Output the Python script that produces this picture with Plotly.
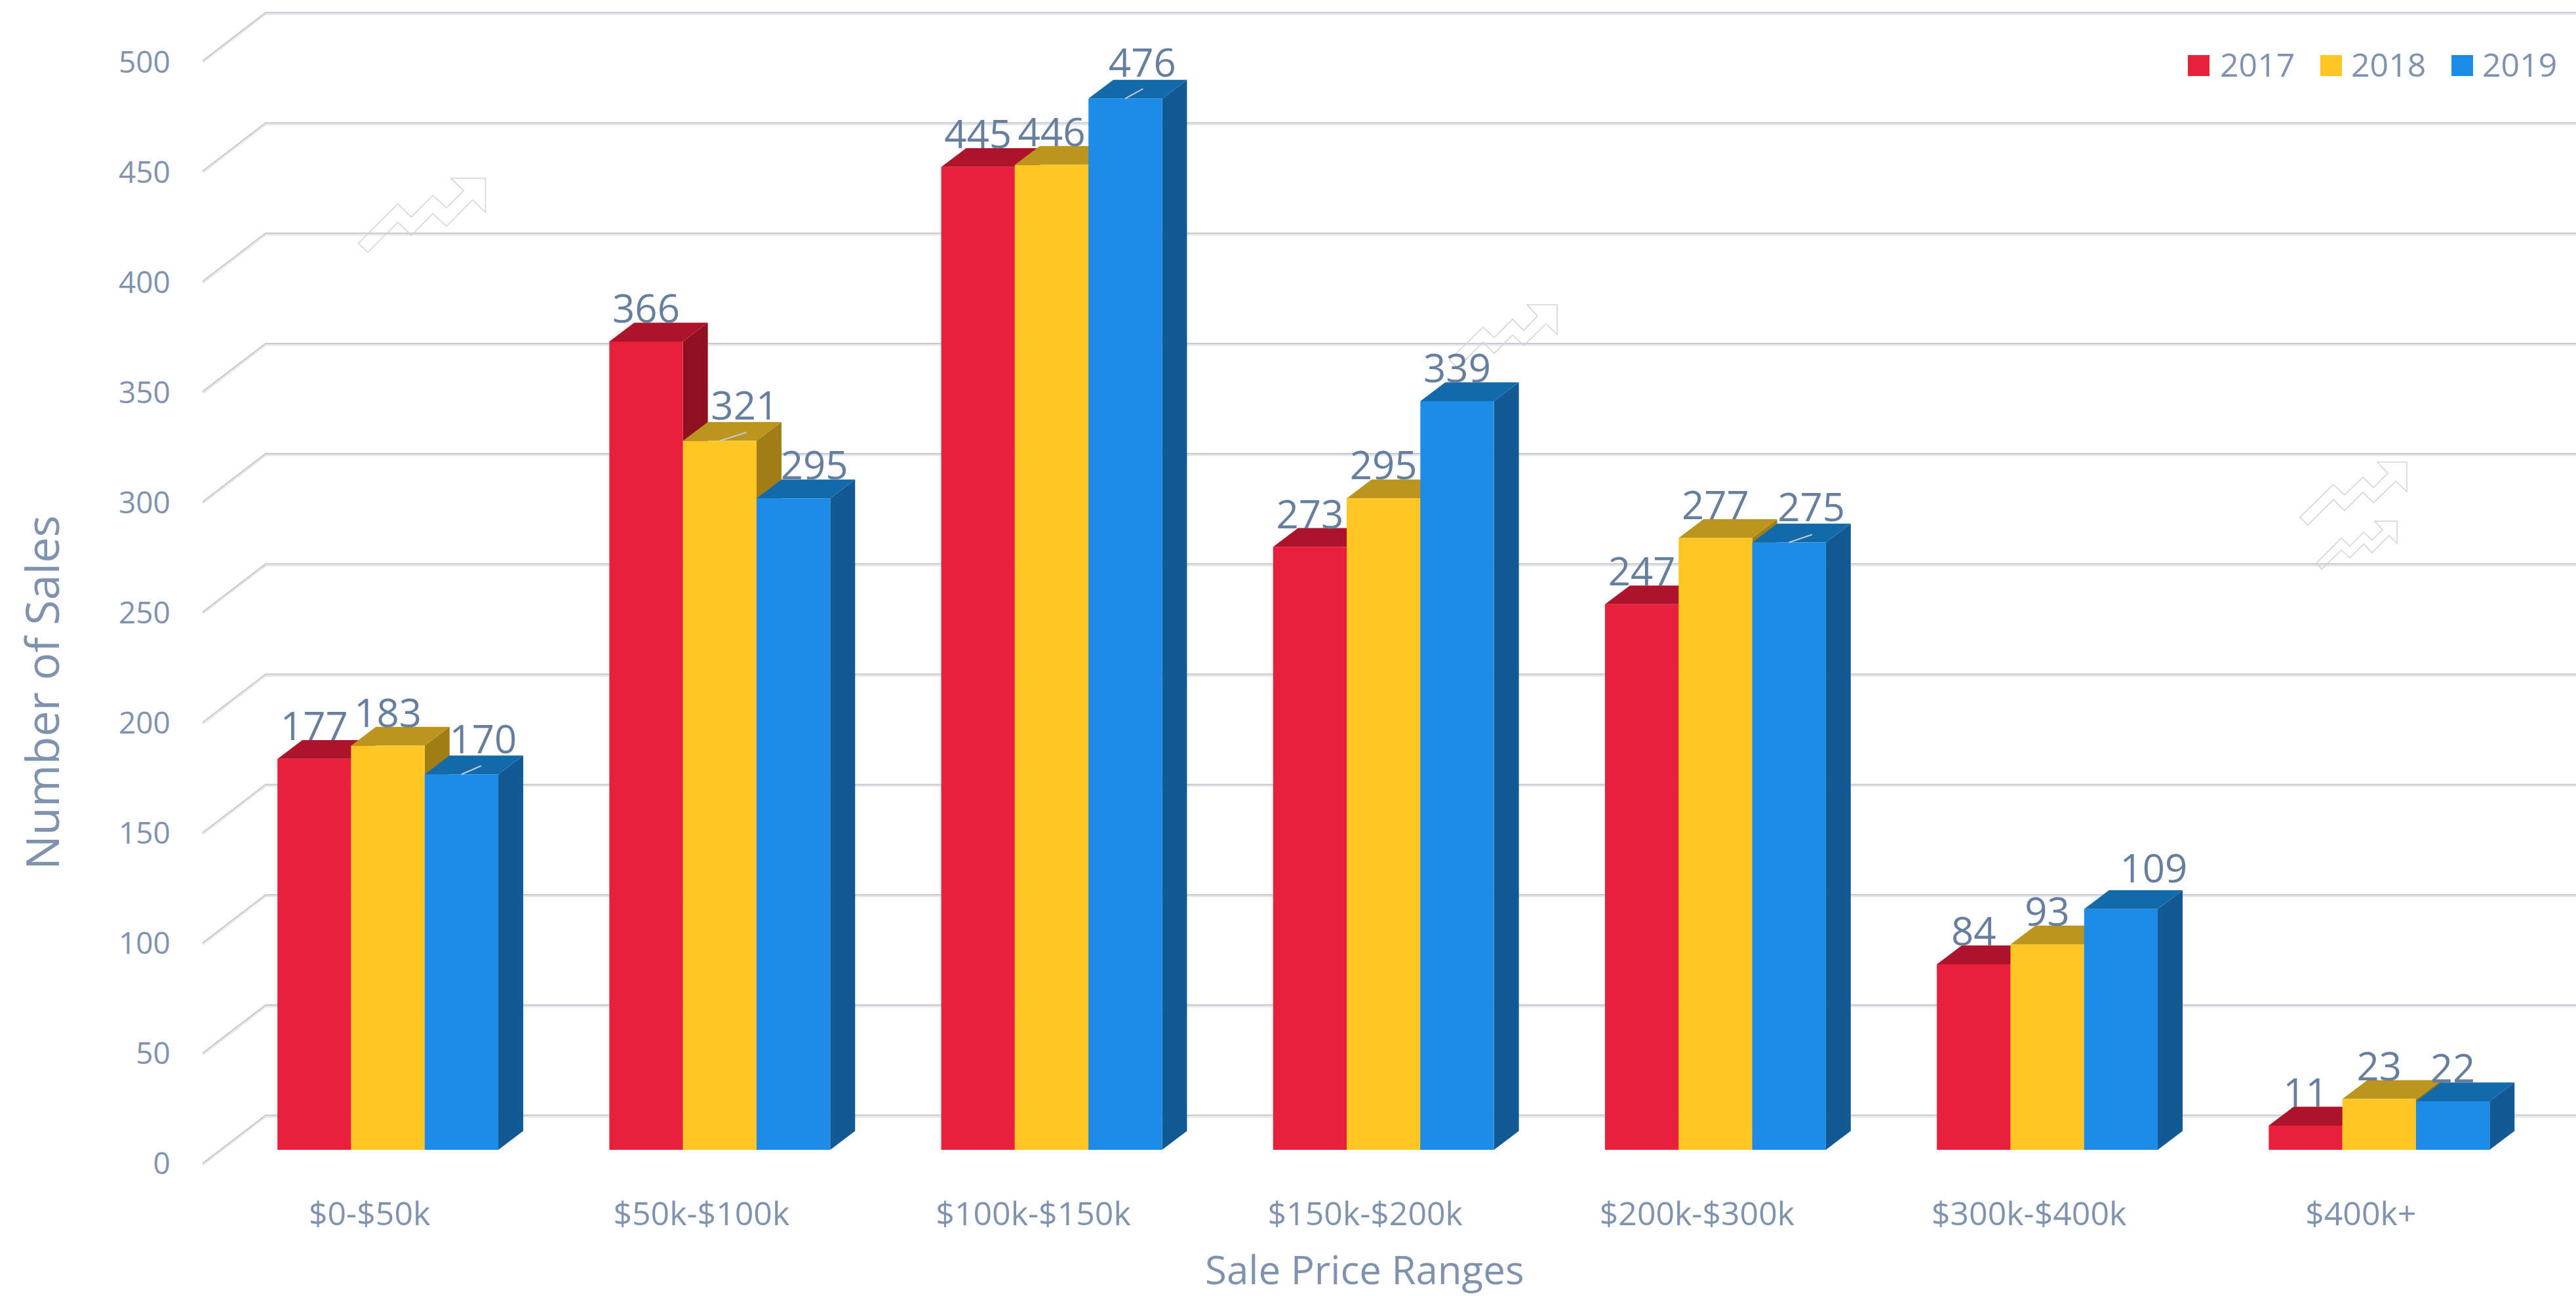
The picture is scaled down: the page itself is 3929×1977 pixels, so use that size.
import plotly.graph_objects as go

# ---- data -------------------------------------------------------------
CATEGORIES = ["$0-$50k", "$50k-$100k", "$100k-$150k", "$150k-$200k", "$200k-$300k", "$300k-$400k", "$400k+"]
YEARS = ["2017", "2018", "2019"]
SALES_2017 = [177, 366, 445, 273, 247, 84, 11]
SALES_2018 = [183, 321, 446, 295, 277, 93, 23]
SALES_2019 = [170, 295, 476, 339, 275, 109, 22]
Y_TICKS = [0, 50, 100, 150, 200, 250, 300, 350, 400, 450, 500]
SERIES = [SALES_2017, SALES_2018, SALES_2019]

# ---- canvas / projection constants (pixels of the page) ----------------
W, H = 3929, 1977
PLOT_L, PLOT_B = 300, 1800
GROUP0_X, GROUP_STEP = 591.6, 506.2   # centre of first group, distance between groups
BAR_W_PX = 112.3
BASE_Y, PX_PER_VALUE = 1754.0, 3.369
DEPTH_X, DEPTH_Y = 38.0, 28.7         # 3-D depth of a bar
WALL_X0, WALL_X1 = 309.0, 405.0       # floor diagonal of the gridlines
WALL_ZERO_Y, WALL_STEP = 1702.0, 3.364
WALL_DY = 73.5
TICK_ZERO_Y, TICK_STEP = 1775.0, 3.36
CAT_LABEL_SHIFT_PX = -28.0


def ux(px):
    return (px - GROUP0_X) / GROUP_STEP


def uy(py):
    return (BASE_Y - py) / PX_PER_VALUE


def pap_x(px):
    return (px - PLOT_L) / (W - PLOT_L)


def pap_y(py):
    return (PLOT_B - py) / PLOT_B


BAR_W = BAR_W_PX / GROUP_STEP
DX = DEPTH_X / GROUP_STEP
DY = DEPTH_Y / PX_PER_VALUE

FRONT = ["#E8203C", "#FFC624", "#1C8CE6"]
TOP = ["#AD142B", "#BB951D", "#136AAA"]
SIDE = ["#91101F", "#A07D15", "#125A93"]
TICK_COLOR = "#7F93AE"
LABEL_COLOR = "#667F9F"
FONT = "Open Sans"

# labels the original moved aside: (series, category) -> (dx px, dy px)
LABEL_MOVED = {(1, 1): (38, 4), (2, 1): (32, 0), (2, 0): (33, 4), (2, 2): (26, 5),
               (2, 4): (34, 4), (2, 5): (50, 12)}
# thin connector lines of moved labels: (series, category) -> (dx px, dy px)
LEADERS = {(1, 1): (41, 13), (2, 2): (27, 15), (2, 0): (30, 13), (2, 4): (35, 12)}

fig = go.Figure()
shapes = []

# gridlines: floor diagonal + back wall line, double stroked
for v in Y_TICKS:
    by = WALL_ZERO_Y - WALL_STEP * v
    for off, col, lw in ((1.2, "#E4E7EB", 3.5), (-0.8, "#C4C8CE", 1.8)):
        path = (f"M {ux(WALL_X0)} {uy(by + WALL_DY + off)} "
                f"L {ux(WALL_X1)} {uy(by + off)} L {ux(W + 5)} {uy(by + off)}")
        shapes.append(dict(type="path", path=path, xref="x", yref="y", layer="below",
                           line=dict(color=col, width=lw)))

# 3-D faces of the bars
for j, vals in enumerate(SERIES):
    for i, v in enumerate(vals):
        x0 = i + (j - 1.5) * BAR_W
        x1 = x0 + BAR_W
        side = f"M {x1} 0 L {x1 + DX} {DY} L {x1 + DX} {v + DY} L {x1} {v} Z"
        top = f"M {x0} {v} L {x0 + DX} {v + DY} L {x1 + DX} {v + DY} L {x1} {v} Z"
        shapes.append(dict(type="path", path=side, xref="x", yref="y", layer="between",
                           fillcolor=SIDE[j], line=dict(width=0)))
        shapes.append(dict(type="path", path=top, xref="x", yref="y", layer="between",
                           fillcolor=TOP[j], line=dict(width=0)))

# front faces
for j, vals in enumerate(SERIES):
    fig.add_trace(go.Bar(name=YEARS[j], x=list(range(len(CATEGORIES))), y=vals,
                         marker=dict(color=FRONT[j], line=dict(width=0))))

# data labels
LABEL_LIFT_PX = -15
for j, vals in enumerate(SERIES):
    xs, ys = [], []
    for i, v in enumerate(vals):
        dx, dy = LABEL_MOVED.get((j, i), (0, 0))
        xs.append(i + (j - 1) * BAR_W + dx / GROUP_STEP)
        ys.append(v + DY + (dy + LABEL_LIFT_PX) / PX_PER_VALUE)
    fig.add_trace(go.Scatter(x=xs, y=ys, mode="text", text=[str(v) for v in vals],
                             textposition="top center", showlegend=False, cliponaxis=False,
                             hoverinfo="skip",
                             textfont=dict(family=FONT, size=60, color=LABEL_COLOR)))

# connector lines
for (j, i), (dx, dy) in LEADERS.items():
    xc = i + (j - 1) * BAR_W
    v = SERIES[j][i]
    shapes.append(dict(type="line", xref="x", yref="y", layer="above",
                       x0=xc, y0=v, x1=xc + dx / GROUP_STEP, y1=v + dy / PX_PER_VALUE,
                       line=dict(color="#C3CBD6", width=2)))

# faint decorative arrows, outlines in page pixels
ARROWS = [
    [(546.5, 371), (607, 311), (627.5, 331), (660, 298), (681, 317), (707, 291), (688, 272), (740.5, 272),
     (740.5, 324), (720.5, 305), (681, 345), (660, 326), (627.5, 359), (607, 339), (561, 385)],
    [(2211, 549), (2262, 499), (2279, 515), (2307, 487), (2324, 504), (2345, 482), (2329, 465), (2375, 465),
     (2375, 510), (2358, 494), (2324, 527), (2307, 511), (2279, 539), (2262, 522), (2223, 561)],
    [(3508, 789), (3559, 739), (3576, 755), (3604, 728), (3620, 744), (3642, 722), (3626, 705), (3671, 705),
     (3671, 750), (3654, 734), (3620, 767), (3604, 751), (3576, 779), (3559, 762), (3520, 801)],
    [(3533, 859), (3571, 821), (3584, 833), (3605, 812), (3618, 824), (3634, 808), (3622, 795), (3656, 795),
     (3656, 829), (3644, 817), (3618, 843), (3605, 830), (3584, 851), (3571, 839), (3541, 868)],
]
for pts in ARROWS:
    path = "M " + " L ".join(f"{ux(a)} {uy(b)}" for a, b in pts) + " Z"
    shapes.append(dict(type="path", path=path, xref="x", yref="y", layer="below",
                       line=dict(color="#D4D4D4", width=1.6)))

# legend swatches
for k, x0 in enumerate((3337, 3539, 3739)):
    shapes.append(dict(type="rect", xref="x", yref="y", layer="between",
                       x0=ux(x0), x1=ux(x0 + 33), y0=uy(116), y1=uy(84),
                       fillcolor=FRONT[k], line=dict(width=0)))

annotations = [
    dict(text="Number of Sales", xref="paper", yref="paper", x=pap_x(63), y=pap_y(1057),
         textangle=-90, showarrow=False, xanchor="center", yanchor="middle",
         font=dict(family=FONT, size=70, color=TICK_COLOR)),
    dict(text="Sale Price Ranges", xref="paper", yref="paper", x=pap_x(2081), y=pap_y(1936),
         showarrow=False, xanchor="center", yanchor="middle",
         font=dict(family=FONT, size=60, color=TICK_COLOR)),
]

fig.update_layout(
    width=W, height=H, autosize=False,
    margin=dict(l=PLOT_L, r=0, t=0, b=H - PLOT_B, pad=0),
    paper_bgcolor="white", plot_bgcolor="rgba(0,0,0,0)",
    barmode="group", bargap=1 - 3 * BAR_W, bargroupgap=0,
    shapes=shapes, annotations=annotations,
    showlegend=True,
    legend=dict(orientation="h", x=pap_x(3321), xanchor="left", y=pap_y(97), yanchor="middle",
                itemwidth=55, entrywidth=130, entrywidthmode="pixels",
                font=dict(family=FONT, size=50, color=TICK_COLOR), bgcolor="rgba(0,0,0,0)",
                traceorder="normal", itemclick=False, itemdoubleclick=False),
    xaxis=dict(range=[ux(PLOT_L), ux(W)], showgrid=False, zeroline=False, showline=False,
               tickmode="array",
               tickvals=[i + CAT_LABEL_SHIFT_PX / GROUP_STEP for i in range(len(CATEGORIES))],
               ticktext=CATEGORIES, ticks="outside", ticklen=8, tickcolor="rgba(0,0,0,0)",
               tickfont=dict(family=FONT, size=50, color=TICK_COLOR)),
    yaxis=dict(range=[uy(PLOT_B), uy(0)], showgrid=False, zeroline=False, showline=False,
               tickmode="array",
               tickvals=[uy(TICK_ZERO_Y - TICK_STEP * v) for v in Y_TICKS],
               ticktext=[str(v) for v in Y_TICKS], ticks="outside", ticklen=30,
               tickcolor="rgba(0,0,0,0)",
               tickfont=dict(family=FONT, size=46, color=TICK_COLOR)),
)

fig.write_html("out.html", config={"displayModeBar": False},
               post_script="document.body.style.margin='0';document.body.style.overflow='hidden';")
